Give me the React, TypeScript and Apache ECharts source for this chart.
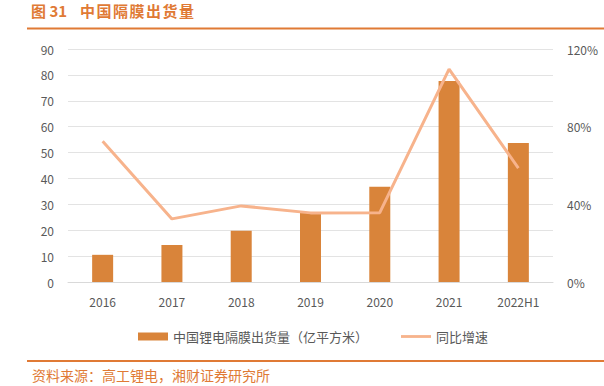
import React, { useEffect, useRef } from "react";
import * as echarts from "echarts";

const categories = ["2016", "2017", "2018", "2019", "2020", "2021", "2022H1"];
const shipments = [10.5, 14.3, 19.8, 26.7, 36.8, 77.6, 53.7];
const growth = [72.5, 32.5, 39.2, 35.6, 35.7, 109.6, 58.7];
const leftTicks = { min: 0, max: 90, interval: 10 };
const rightTicks = { min: 0, max: 120, interval: 40 };
const titleNo = "图 31";
const titleText = "中国隔膜出货量";
const sourceText = "资料来源：高工锂电，湘财证券研究所";

const ORANGE = "#E07A35";
const GRAY = "#595959";
const FONT = "'Noto Sans CJK SC', sans-serif";

export default function App() {
  const ref = useRef<HTMLDivElement>(null);
  useEffect(() => {
    document.body.style.margin = "0";
    const chart = echarts.init(ref.current!, null, { renderer: "svg" });
    const titleChars = titleText.split("").map((ch, i) => ({
      type: "text",
      left: 80 + i * 16.5,
      top: 3,
      style: { text: ch, fill: ORANGE, font: `bold 15px ${FONT}` },
    }));
    chart.setOption({
      animation: false,
      textStyle: { fontFamily: "'Noto Sans CJK SC', 'Open Sans', sans-serif" },
      grid: { left: 68, right: 51, top: 49, bottom: 104 },
      legend: {
        top: 325,
        left: 133,
        itemWidth: 30,
        itemHeight: 8,
        itemGap: 33,
        textStyle: { color: GRAY, fontSize: 13 },
        data: [
          { name: "中国锂电隔膜出货量（亿平方米）", icon: "rect" },
          { name: "同比增速", icon: "path://M0,0H32V3H0Z" },
        ],
      },
      xAxis: {
        type: "category",
        data: categories,
        axisLine: { lineStyle: { color: "#D9D9D9" } },
        axisTick: { show: false },
        axisLabel: { color: GRAY, fontSize: 12, margin: 13 },
      },
      yAxis: [
        {
          type: "value",
          ...leftTicks,
          axisLine: { show: false },
          axisTick: { show: false },
          axisLabel: { color: GRAY, fontSize: 12, margin: 14 },
          splitLine: { lineStyle: { color: "#E3E3E3" } },
        },
        {
          type: "value",
          ...rightTicks,
          axisLine: { show: false },
          axisTick: { show: false },
          axisLabel: { color: GRAY, fontSize: 12, margin: 14, formatter: "{value}%" },
          splitLine: { show: false },
        },
      ],
      series: [
        {
          name: "中国锂电隔膜出货量（亿平方米）",
          type: "bar",
          data: shipments,
          barWidth: 21,
          itemStyle: { color: "#D9843A" },
        },
        {
          name: "同比增速",
          type: "line",
          yAxisIndex: 1,
          data: growth,
          symbol: "none",
          lineStyle: { color: "#F7B38C", width: 3 },
          itemStyle: { color: "#F7B38C" },
        },
      ],
      graphic: [
        {
          type: "text",
          left: 31,
          top: 3,
          style: { text: titleNo, fill: ORANGE, font: `bold 15px ${FONT}` },
        },
        ...titleChars,
        {
          type: "line",
          shape: { x1: 27, y1: 28.5, x2: 604, y2: 28.5 },
          style: { stroke: ORANGE, lineWidth: 2 },
        },
        {
          type: "line",
          shape: { x1: 27, y1: 361, x2: 604, y2: 361 },
          style: { stroke: ORANGE, lineWidth: 2 },
        },
        {
          type: "text",
          left: 32,
          top: 368,
          style: { text: sourceText, fill: ORANGE, font: `14px ${FONT}` },
        },
      ],
    });
    return () => chart.dispose();
  }, []);
  return <div ref={ref} style={{ width: 604, height: 386 }} />;
}
